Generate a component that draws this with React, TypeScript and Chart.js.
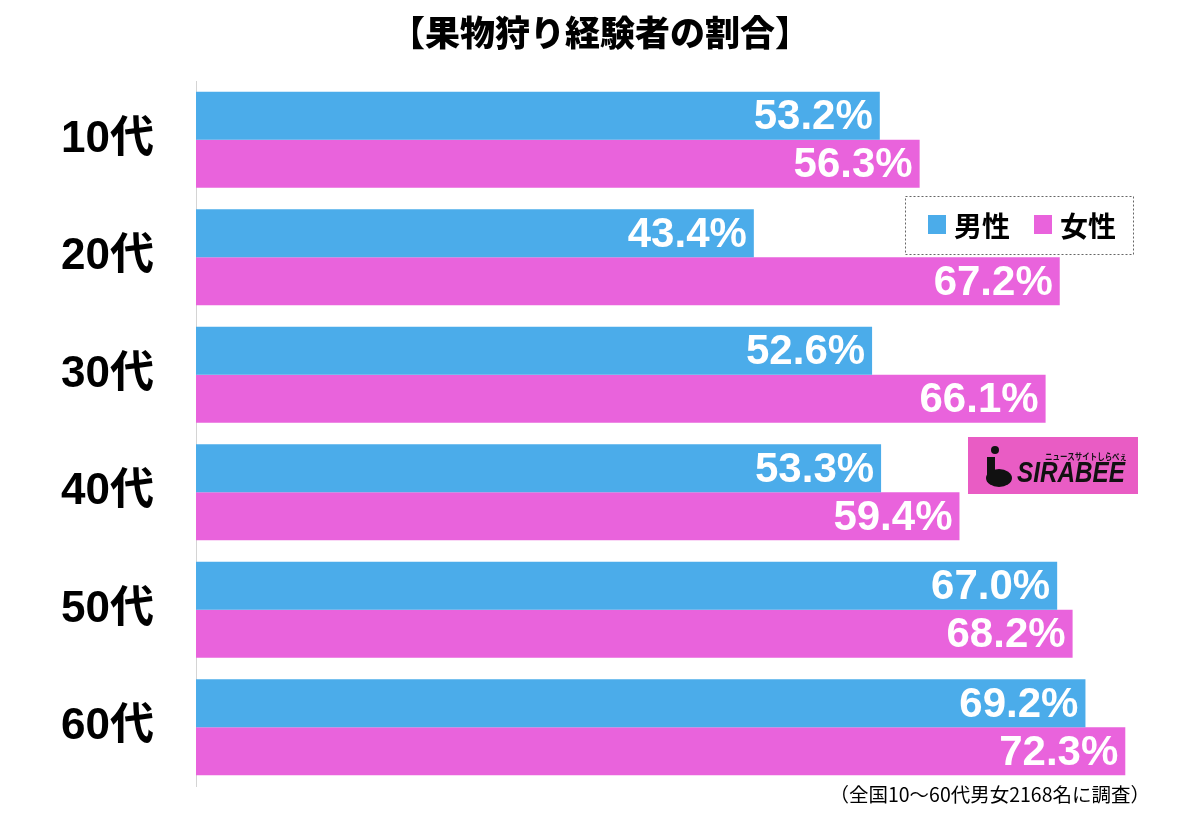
import React, { useEffect, useRef } from "react";
import { Chart, registerables } from "chart.js";

Chart.register(...registerables);

const TITLE = "【果物狩り経験者の割合】";
const NOTE = "（全国10～60代男女2168名に調査）";
const categories = ["10代", "20代", "30代", "40代", "50代", "60代"];
const seriesNames = ["男性", "女性"];
const maleValues = [53.2, 43.4, 52.6, 53.3, 67.0, 69.2];
const femaleValues = [56.3, 67.2, 66.1, 59.4, 68.2, 72.3];
const BLUE = "#4BACEA";
const PINK = "#E963DC";
const FONT = '"Liberation Sans", "Noto Sans CJK JP", sans-serif';
const CJK = '"Noto Sans CJK JP", "Liberation Sans", sans-serif';

const overlay = {
  id: "overlay",
  afterDatasetsDraw(chart: any) {
    const ctx = chart.ctx;
    ctx.save();
    ctx.fillStyle = "#ffffff";
    ctx.font = `bold 42px ${FONT}`;
    ctx.textAlign = "right";
    ctx.textBaseline = "middle";
    chart.data.datasets.forEach((ds: any, di: number) => {
      const meta = chart.getDatasetMeta(di);
      meta.data.forEach((bar: any, i: number) => {
        const v = ds.data[i] as number;
        ctx.fillText(v.toFixed(1) + "%", bar.x - 7, bar.y + 2);
      });
    });
    ctx.restore();
  },
  afterDraw(chart: any) {
    const ctx = chart.ctx;
    ctx.save();
    ctx.fillStyle = "#000";
    ctx.font = `900 35px ${CJK}`;
    ctx.textAlign = "center";
    ctx.textBaseline = "middle";
    ctx.fillText(TITLE, 600, 33);
    ctx.font = `19.5px ${CJK}`;
    ctx.textAlign = "right";
    ctx.fillText(NOTE, 1150, 795);
    // legend box
    ctx.setLineDash([2, 2]);
    ctx.strokeStyle = "#666";
    ctx.lineWidth = 1;
    ctx.strokeRect(905.5, 196.5, 228, 58);
    ctx.setLineDash([]);
    const items = [
      { x: 928, label: seriesNames[0], color: BLUE },
      { x: 1034, label: seriesNames[1], color: PINK },
    ];
    ctx.textAlign = "left";
    ctx.font = `bold 28px ${CJK}`;
    items.forEach((it) => {
      ctx.fillStyle = it.color;
      ctx.fillRect(it.x, 215, 18, 19);
      ctx.fillStyle = "#000";
      ctx.fillText(it.label, it.x + 26, 226);
    });
    // logo
    ctx.fillStyle = "#E95CC4";
    ctx.fillRect(968, 437, 170, 57);
    ctx.fillStyle = "#111";
    ctx.font = `italic bold 30px ${FONT}`;
    ctx.textAlign = "left";
    ctx.fillText("SIRABEE", 1017, 474, 108);
    ctx.font = `bold 9px ${CJK}`;
    ctx.fillText("ニュースサイトしらべぇ", 1045, 457, 82);
    ctx.beginPath();
    ctx.arc(995, 450, 4, 0, Math.PI * 2);
    ctx.fill();
    ctx.beginPath();
    ctx.ellipse(999, 478, 13, 9, 0, 0, Math.PI * 2);
    ctx.fill();
    ctx.fillRect(987, 457, 8, 20);
    ctx.restore();
  },
};

export default function App() {
  const ref = useRef<HTMLCanvasElement>(null);
  useEffect(() => {
    document.body.style.margin = "0";
    const chart = new Chart(ref.current!, {
      type: "bar",
      data: {
        labels: categories,
        datasets: [
          { label: seriesNames[0], data: maleValues, backgroundColor: BLUE, borderWidth: 0 },
          { label: seriesNames[1], data: femaleValues, backgroundColor: PINK, borderWidth: 0 },
        ],
      },
      options: {
        indexAxis: "y",
        responsive: false,
        animation: false,
        maintainAspectRatio: false,
        layout: { padding: { top: 81, bottom: 29, right: 40, left: 0 } },
        datasets: { bar: { categoryPercentage: 0.818, barPercentage: 1 } },
        plugins: { legend: { display: false }, title: { display: false }, tooltip: { enabled: false } },
        scales: {
          x: { display: false, min: 0, max: 75 },
          y: {
            grid: { display: false, drawTicks: false },
            border: { display: true, color: "#d4d4d4", width: 1 },
            ticks: { color: "#000", font: { family: FONT, weight: "bold", size: 44 }, padding: 42 },
            afterFit: (scale: any) => {
              scale.width = 196;
              scale.paddingTop = 0;
              scale.paddingBottom = 0;
            },
          },
        },
      },
      plugins: [overlay],
    });
    return () => chart.destroy();
  }, []);
  return (
    <div style={{ width: 1200, height: 815, background: "#fff" }}>
      <canvas ref={ref} width={1200} height={815} />
    </div>
  );
}
